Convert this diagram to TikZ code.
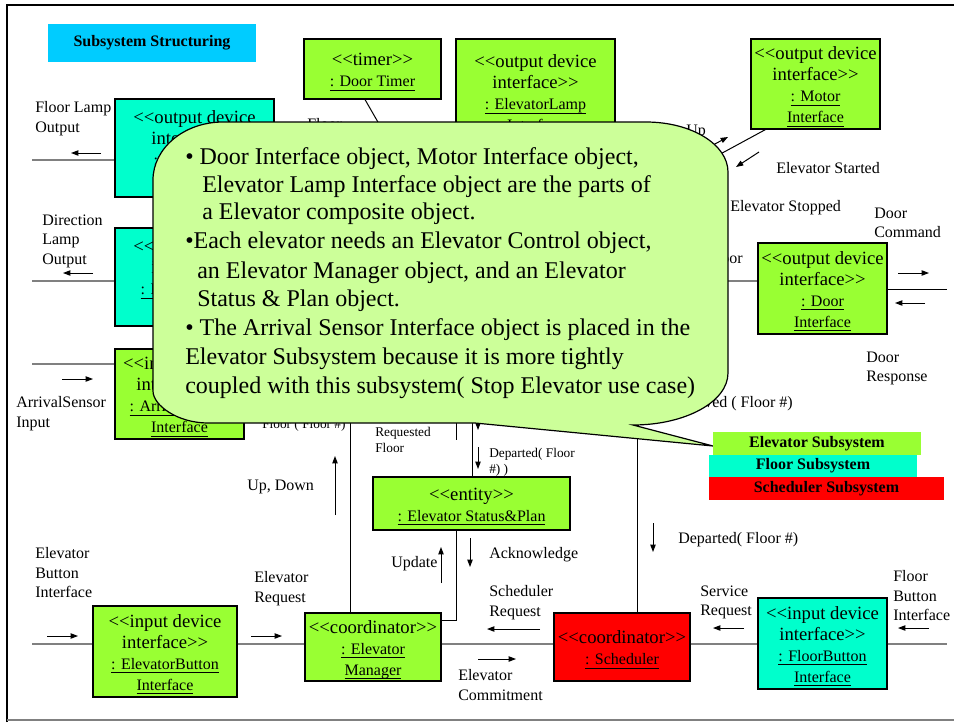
\documentclass[tikz,border=0pt]{standalone}
\usepackage{fontspec}
\setmainfont{Liberation Serif}
\usetikzlibrary{arrows.meta}

\definecolor{elevgreen}{HTML}{99FF33}
\definecolor{floorcyan}{HTML}{00FFCC}
\definecolor{schedred}{HTML}{FF0000}
\definecolor{titlecyan}{HTML}{00CCFF}
\definecolor{notegreen}{HTML}{CCFF99}

% stereotype brackets, kerned so they stay as two "<" signs;
% the strut gives the first line of a box a little head room
\newcommand\stereo[1]{\rule{0pt}{14pt}<\kern0pt<#1>\kern0pt>}
% underlined object name in a UML object box
\newcommand\objname[1]{{\fontsize{12}{14}\selectfont\underline{\raisebox{0pt}[\height][1pt]{#1}}}}

\begin{document}
\begin{tikzpicture}[x=0.75pt,y=-0.75pt,
  obj/.style={draw=black, line width=0.9pt, align=center, inner sep=0pt,
              font=\fontsize{14}{15.8}\selectfont},
  elev/.style={obj, fill=elevgreen},
  flr/.style={obj, fill=floorcyan},
  sch/.style={obj, fill=schedred},
  gline/.style={draw=gray, line width=1.5pt},
  tline/.style={draw=black, line width=0.75pt},
  flow/.style={draw=black, line width=0.75pt, -{Triangle[length=5.5pt,width=4pt]}},
  lab/.style={align=left, inner sep=0pt, anchor=north west,
              font=\fontsize{12}{14.6}\selectfont},
  slab/.style={lab, font=\fontsize{10}{12}\selectfont},
  btxt/.style={anchor=base west, inner sep=0pt, font=\fontsize{18}{21.5}\selectfont},
  legend/.style={inner sep=0pt, font=\fontsize{12}{14}\selectfont\bfseries}]

\fill[white] (0,0) rectangle (954,722);
\useasboundingbox (0,0) rectangle (954,722);

% page frame
\draw[line width=1.5pt] (7,722) -- (7,5) -- (954,5);
\draw[gray, line width=1.2pt] (7,720) -- (954,720);

% title
\node[fill=titlecyan, minimum width=156pt, minimum height=28.5pt, inner sep=0pt,
      font=\fontsize{12}{14}\selectfont\bfseries] (title) at (152,43) {Subsystem Structuring};

% objects
\node[flr, minimum width=119.25pt, minimum height=73.5pt] (flamp) at (194.5,148)
  {\stereo{output device\\interface}\\\objname{: FloorLamp}\\\objname{Interface}};
\node[flr, minimum width=119.25pt, minimum height=73.5pt] (dlamp) at (194.5,277)
  {\stereo{output device\\interface}\\\objname{: DirectionLamp}\\\objname{Interface}};
\node[elev, minimum width=96.75pt, minimum height=67.5pt] (asensor) at (179.5,394)
  {\stereo{input device\\interface}\\\objname{: ArrivalSensor}\\\objname{Interface}};
\node[elev, minimum width=102.75pt, minimum height=45pt] (timer) at (372.5,69)
  {\stereo{timer}\\\objname{: Door Timer}};
\node[elev, minimum width=119.25pt, minimum height=79.5pt] (elamp) at (535.5,92)
  {\stereo{output device\\interface}\\\objname{: ElevatorLamp}\\\objname{Interface}};
\node[elev, minimum width=96.75pt, minimum height=67.5pt] (motor) at (815.5,84)
  {\stereo{output device\\interface}\\\objname{: Motor}\\\objname{Interface}};
\node[elev, minimum width=96.75pt, minimum height=68.25pt] (door) at (822.5,288.5)
  {\stereo{output device\\interface}\\\objname{: Door}\\\objname{Interface}};
\node[elev, minimum width=147.75pt, minimum height=39.75pt] (esp) at (471.5,503.5)
  {\stereo{entity}\\\objname{: Elevator Status\&Plan}};
\node[elev, minimum width=108pt, minimum height=68.25pt] (ebutton) at (165,651.5)
  {\stereo{input device\\interface}\\\objname{: ElevatorButton}\\\objname{Interface}};
\node[elev, minimum width=102pt, minimum height=51pt] (emgr) at (373,647)
  {\stereo{coordinator}\\\objname{: Elevator}\\\objname{Manager}};
\node[sch, minimum width=102pt, minimum height=51pt] (sched) at (622,647)
  {\stereo{coordinator}\\\objname{: Scheduler}};
\node[flr, minimum width=96.75pt, minimum height=68.25pt] (fbutton) at (822.5,643.5)
  {\stereo{input device\\interface}\\\objname{: FloorButton}\\\objname{Interface}};

% connector end points
\coordinate (flo) at (32,160);
\coordinate (dlo) at (32,281);
\coordinate (asi) at (32,364);
\coordinate (ebi) at (32,644);
\coordinate (fbi) at (947,644);
\coordinate (dci) at (700,281);
\coordinate (dco) at (947,289);
\coordinate (tmr) at (394,150);
\coordinate (mtr) at (690,170.5);
\coordinate (v1) at (350,400);
\coordinate (v2) at (637,400);
\coordinate (v3) at (472,400);
\coordinate (v4a) at (456,400);
\coordinate (v4b) at (456,440);
\coordinate (v5) at (456,620);

% connectors
\draw[gline] (flo) -- (flo -| flamp.west);
\draw[gline] (dlo) -- (dlo -| dlamp.west);
\draw[gline] (asi) -- (asi -| asensor.west);
\draw[gline] (ebi) -- (ebi -| ebutton.west);
\draw[gline] (ebi -| ebutton.east) -- (ebi -| emgr.west);
\draw[gline] (ebi -| emgr.east) -- (ebi -| sched.west);
\draw[gline] (ebi -| sched.east) -- (ebi -| fbutton.west);
\draw[gline] (fbi -| fbutton.east) -- (fbi);
\draw[gline] (dci) -- (dci -| door.west);
\draw[tline] (dco -| door.east) -- (dco);
\draw[tline] ([xshift=-5.6pt]timer.south) -- (tmr);
\draw[tline] ([xshift=11.25pt]motor.south west) -- (mtr);
\draw[tline] (v1) -- (v1 |- emgr.north);
\draw[tline] (v2) -- (v2 |- sched.north);
\draw[tline] (v3) -- (v3 |- esp.north);
\draw[tline] (v4a) -- (v4b);
\draw[tline] (v5 |- esp.south) -- (v5) -- (v5 -| emgr.east);

% message labels
\node[lab] (lflo) at (35,101.5) {Floor Lamp\\Output};
\node[lab] (ldlo) at (42,214.5) {Direction\\Lamp\\Output};
\node[lab] (lasi) at (16,396.5) {ArrivalSensor\\Input};
\node[lab] (lebi) at (35,547.5) {Elevator\\Button\\Interface};
\node[lab] (lereq) at (254,571.5) {Elevator\\Request};
\node[lab] (lupdn) at (247,479.5) {Up, Down};
\node[slab] (lreqf) at (375,427.4) {Requested\\Floor};
\node[slab] (ldep1) at (489,448.4) {Departed( Floor\\\#) )};
\node[slab] (lflf) at (262,419.4) {Floor ( Floor \#)};
\node[lab] (lupd) at (391,556.5) {Update};
\node[lab] (lack) at (489,547.5) {Acknowledge};
\node[lab] (lsreq) at (489,585.5) {Scheduler\\Request};
\node[lab] (lecom) at (458,669.5) {Elevator\\Commitment};
\node[lab] (lsvr) at (700,585.5) {Service\\Request};
\node[lab] (lfbi) at (893,570.5) {Floor\\Button\\Interface};
\node[lab] (ldep2) at (678,532.5) {Departed( Floor \#)};
\node[lab] (ldcmd) at (874,207.5) {Door\\Command};
\node[lab] (ldrsp) at (866,351.5) {Door\\Response};
\node[lab] (lest) at (776,162.5) {Elevator Started};
\node[lab] (lesp) at (730,200.5) {Elevator Stopped};
\node[lab] (lup) at (686,124.5) {Up};
\node[lab] (lflr) at (307,118) {Floor};
\node[lab, anchor=north east] (larr) at (793,396.5) {Arrived ( Floor \#)};
\node[lab, anchor=north east] (lodr) at (743,253) {Open Door};

% message direction arrows
\draw[flow] (101,153) -- (71,153);
\draw[flow] (93,273) -- (63,273);
\draw[flow] (62,379) -- (93,379);
\draw[flow] (47,636) -- (78,636);
\draw[flow] (251,636) -- (282,636);
\draw[flow] (335,515) -- (335,456);
\draw[flow] (441,583) -- (441,547);
\draw[flow] (470,538) -- (470,567);
\draw[flow] (540,629) -- (487,629);
\draw[flow] (478,659) -- (516,659);
\draw[flow] (744,628) -- (713,628);
\draw[flow] (929,628) -- (898,628);
\draw[flow] (653,523) -- (653,552);
\draw[flow] (478,447) -- (478,469);
\draw[flow] (478,405) -- (478,430);
\draw[flow] (898,273) -- (929,273);
\draw[flow] (925,303) -- (895,303);
\draw[flow] (713,145) -- (728,137);
\draw[flow] (759,152) -- (736,167);

% note callout with elliptic corners and a pointer towards the key
\filldraw[fill=notegreen, draw=black, line width=0.9pt]
  (223,122) -- (646,122) .. controls (691.3,122) and (728,144.4) .. (728,172)
  -- (728,373) .. controls (728,401.7) and (685.5,425) .. (633,425)
  -- (713,446) -- (475,423)
  -- (208,423) .. controls (177.6,423) and (153,405.3) .. (153,391)
  -- (153,180) .. controls (153,148) and (184.3,122) .. (223,122) -- cycle;

\node[btxt] (n1) at (185,164) {• Door Interface object, Motor Interface object,};
\node[btxt] (n2) at (202,192) {Elevator Lamp Interface object are the parts of};
\node[btxt] (n3) at (202,219) {a Elevator composite object.};
\node[btxt] (n4) at (185,248) {•Each elevator needs an Elevator Control object,};
\node[btxt] (n5) at (197,278) {an Elevator Manager object, and an Elevator};
\node[btxt] (n6) at (197,306) {Status \& Plan object.};
\node[btxt] (n7) at (185,335) {• The Arrival Sensor Interface object is placed in the};
\node[btxt] (n8) at (185,364) {Elevator Subsystem because it is more tightly};
\node[btxt] (n9) at (185,393) {coupled with this subsystem( Stop Elevator use case)};

% colour key
\node[legend, fill=elevgreen, minimum width=156pt, minimum height=17.25pt] (kelev) at (817,443.5) {Elevator Subsystem};
\node[legend, fill=floorcyan, minimum width=156pt, minimum height=16.5pt] (kfloor) at (813,466) {Floor Subsystem};
\node[legend, fill=schedred, minimum width=176.25pt, minimum height=17.25pt] (ksched) at (826.5,488.5) {Scheduler Subsystem};
\end{tikzpicture}
\end{document}
